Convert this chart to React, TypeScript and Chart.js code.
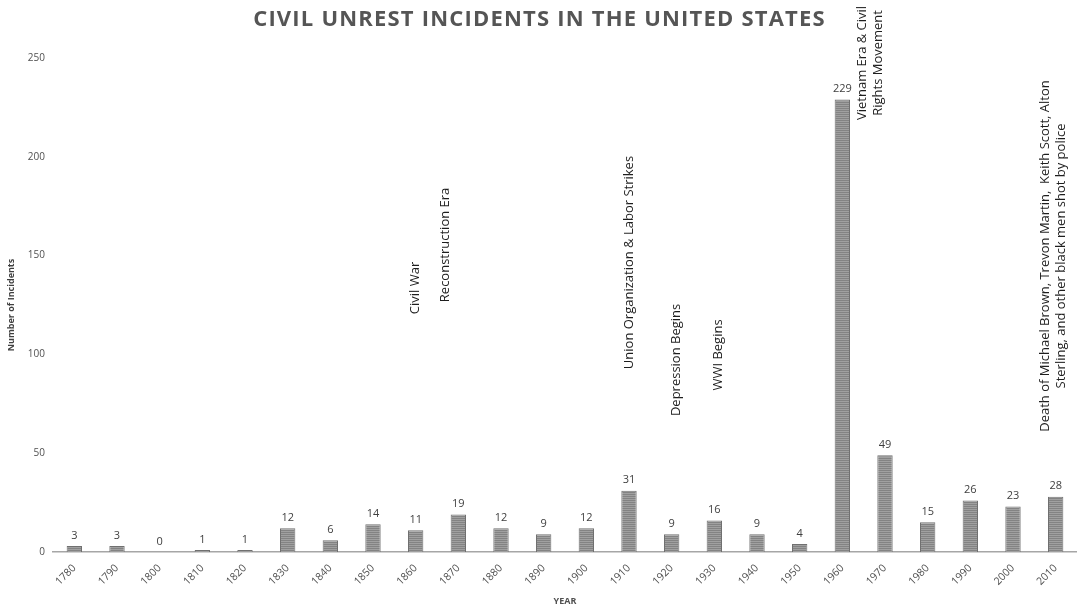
import React, { useEffect, useRef } from "react";
import { Chart, registerables } from "chart.js";

Chart.register(...registerables);

const years = ["1780","1790","1800","1810","1820","1830","1840","1850","1860","1870","1880","1890","1900","1910","1920","1930","1940","1950","1960","1970","1980","1990","2000","2010"];
const incidents = [3,3,0,1,1,12,6,14,11,19,12,9,12,31,9,16,9,4,229,49,15,26,23,28];
const yTicks = [0, 50, 100, 150, 200, 250];

// annotation texts, anchored at (category position, value at the middle of the rotated text)
const noteLines: string[][] = [
  ["Civil War"],
  ["Reconstruction Era"],
  ["Union Organization & Labor Strikes"],
  ["Depression Begins"],
  ["WWI Begins"],
  ["Vietnam Era & Civil", "Rights Movement"],
  ["Death of Michael Brown, Trevon Martin,  Keith Scott, Alton", "Sterling, and other black men shot by police"],
];
const notePos = [8.0, 8.7, 13.0, 14.1, 15.1, 18.66, 22.95];
const noteMid = [133.6, 155.4, 146.5, 97.2, 99.7, 247.5, 149.8];

const TITLE = "CIVIL UNREST INCIDENTS IN THE UNITED STATES";

function makePattern(): CanvasPattern | string {
  const c = document.createElement("canvas");
  c.width = 4;
  c.height = 2;
  const g = c.getContext("2d");
  if (!g) return "#8c8c8c";
  g.fillStyle = "#838383";
  g.fillRect(0, 0, 4, 1);
  g.fillStyle = "#a0a0a0";
  g.fillRect(0, 1, 4, 1);
  const p = g.createPattern(c, "repeat");
  return p || "#8c8c8c";
}

const titlePlugin = {
  id: "spacedTitle",
  afterDraw(chart: any) {
    const ctx = chart.ctx;
    ctx.save();
    ctx.font = "bold 22px 'Open Sans'";
    (ctx as any).letterSpacing = "1.2px";
    ctx.fillStyle = "#555555";
    ctx.textAlign = "center";
    ctx.textBaseline = "middle";
    ctx.fillText(TITLE, chart.width / 2 + 1, 20);
    ctx.restore();
  },
};

const valueLabels = {
  id: "valueLabels",
  afterDatasetsDraw(chart: any) {
    const ctx = chart.ctx;
    const meta = chart.getDatasetMeta(0);
    ctx.save();
    ctx.font = "11px 'Open Sans'";
    ctx.fillStyle = "#404040";
    ctx.textAlign = "center";
    ctx.textBaseline = "bottom";
    meta.data.forEach((bar: any, i: number) => {
      ctx.fillText(String(incidents[i]), bar.x, bar.y - 5);
    });
    ctx.restore();
  },
};

const notes = {
  id: "notes",
  afterDraw(chart: any) {
    const ctx = chart.ctx;
    const xs = chart.scales.x;
    const ys = chart.scales.y;
    ctx.save();
    ctx.font = "13px 'Open Sans'";
    ctx.fillStyle = "#1e1e1e";
    ctx.textAlign = "center";
    ctx.textBaseline = "middle";
    const lh = 16;
    noteLines.forEach((lines, k) => {
      const cx = xs.getPixelForValue(notePos[k]);
      const cy = ys.getPixelForValue(noteMid[k]);
      ctx.save();
      ctx.translate(cx, cy);
      ctx.rotate(-Math.PI / 2);
      const n = lines.length;
      lines.forEach((t, j) => {
        ctx.fillText(t, 0, (j - (n - 1) / 2) * lh);
      });
      ctx.restore();
    });
    ctx.restore();
  },
};

export default function App() {
  const ref = useRef<HTMLCanvasElement>(null);
  useEffect(() => {
    document.body.style.margin = "0";
    const el = ref.current;
    if (!el) return;
    const chart = new Chart(el, {
      type: "bar",
      data: {
        labels: years,
        datasets: [
          {
            data: incidents,
            backgroundColor: makePattern() as any,
            borderColor: "#707070",
            borderWidth: 1,
            barPercentage: 0.36,
            categoryPercentage: 1,
          },
        ],
      },
      options: {
        animation: false,
        responsive: false,
        maintainAspectRatio: false,
        layout: { padding: { top: 58, right: 0, left: 0, bottom: 0 } },
        plugins: {
          legend: { display: false },
          tooltip: { enabled: false },
          title: { display: false },
        },
        scales: {
          x: {
            grid: { display: false, drawTicks: false },
            border: { color: "#a6a6a6", width: 1.5 },
            ticks: {
              color: "#505050",
              font: { family: "'Open Sans'", size: 10.5 },
              maxRotation: 45,
              minRotation: 45,
              padding: 10,
              autoSkip: false,
            },
            title: {
              display: true,
              text: "YEAR",
              color: "#505050",
              font: { family: "'Open Sans'", size: 9, weight: "bold" },
              padding: { top: 0, bottom: 0 },
            },
            afterFit(scale: any) {
              scale.height = 55;
            },
          },
          y: {
            min: 0,
            max: 250,
            afterBuildTicks(scale: any) {
              scale.ticks = yTicks.map((v) => ({ value: v }));
            },
            grid: { display: false, drawTicks: false },
            border: { display: false },
            ticks: {
              color: "#505050",
              font: { family: "'Open Sans'", size: 10 },
              padding: 8,
            },
            title: {
              display: true,
              text: "Number of Incidents",
              color: "#404040",
              font: { family: "'Open Sans'", size: 9, weight: "bold" },
              padding: { top: 6, bottom: 0 },
            },
            afterFit(scale: any) {
              scale.width = 53;
            },
          },
        },
      },
      plugins: [valueLabels, notes, titlePlugin],
    });
    return () => chart.destroy();
  }, []);
  return (
    <div style={{ width: 1077, height: 607, background: "#fff" }}>
      <canvas ref={ref} width={1077} height={607} style={{ display: "block", width: 1077, height: 607 }} />
    </div>
  );
}
